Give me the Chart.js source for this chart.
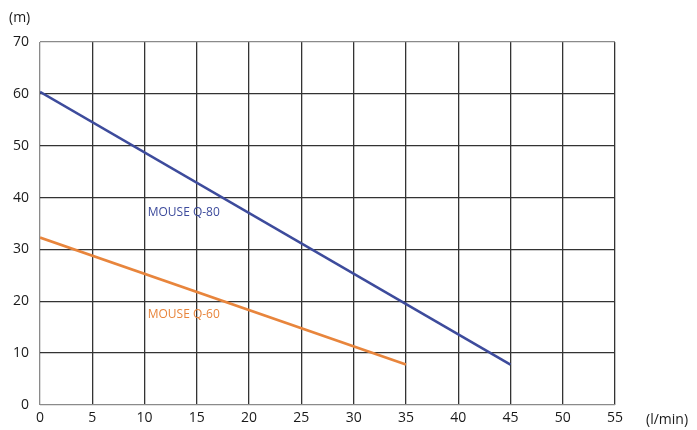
<!DOCTYPE html>
<html lang="en">
<head>
    <meta charset="UTF-8">
    <title>Pump curves</title>
    <script src="https://cdn.jsdelivr.net/npm/chart.js"></script>
    <style>
        body { margin: 0; background: #fff; }
        canvas { display: block; }
    </style>
</head>
<body>
    <canvas id="pumpChart" width="697" height="430"></canvas>

    <script>
        // flow (l/min) vs head (m)
        const q80Flow = [0, 45];
        const q80Head = [60.4, 7.8];
        const q60Flow = [0, 35];
        const q60Head = [32.3, 7.8];

        const xTicks = [0, 5, 10, 15, 20, 25, 30, 35, 40, 45, 50, 55];
        const yTicks = [0, 10, 20, 30, 40, 50, 60, 70];

        const blue = '#3d4b9c';
        const orange = '#e8853c';

        // series labels placed in data units
        const seriesLabels = [
            { text: 'MOUSE Q-80', x: 10.3, y: 37.2, color: blue },
            { text: 'MOUSE Q-60', x: 10.3, y: 17.5, color: orange },
        ];

        const toPoints = (xs, ys) => xs.map((x, i) => ({ x: x, y: ys[i] }));

        const gridColor = (ctx) => (ctx.tick.value === 0 ? '#8a8a8a' : '#333');

        const textPlugin = {
            id: 'textPlugin',
            afterDatasetsDraw(chart) {
                const { ctx, scales, chartArea } = chart;
                ctx.save();
                ctx.font = '12px "Open Sans"';
                ctx.textBaseline = 'middle';
                ctx.textAlign = 'left';
                seriesLabels.forEach(l => {
                    ctx.fillStyle = l.color;
                    ctx.fillText(l.text, scales.x.getPixelForValue(l.x), scales.y.getPixelForValue(l.y));
                });
                ctx.fillStyle = '#1a1a1a';
                ctx.font = '14px "Open Sans"';
                ctx.fillText('(m)', 9, chartArea.top - 24);
                ctx.fillText('(l/min)', chartArea.right + 31, chartArea.bottom + 15);
                ctx.restore();
            }
        };

        const ctx = document.getElementById('pumpChart').getContext('2d');
        new Chart(ctx, {
            type: 'scatter',
            data: {
                datasets: [
                    {
                        label: 'MOUSE Q-80',
                        data: toPoints(q80Flow, q80Head),
                        showLine: true,
                        borderColor: blue,
                        borderWidth: 2.6,
                        pointRadius: 0,
                    },
                    {
                        label: 'MOUSE Q-60',
                        data: toPoints(q60Flow, q60Head),
                        showLine: true,
                        borderColor: orange,
                        borderWidth: 2.6,
                        pointRadius: 0,
                    },
                ],
            },
            options: {
                responsive: false,
                animation: false,
                layout: { padding: { top: 42, right: 82, left: 0, bottom: 0 } },
                plugins: {
                    legend: { display: false },
                    tooltip: { enabled: false },
                },
                scales: {
                    x: {
                        type: 'linear',
                        min: 0,
                        max: 55,
                        afterBuildTicks: (s) => { s.ticks = xTicks.map(v => ({ value: v })); },
                        afterFit: (s) => { s.height = 25; },
                        grid: { color: gridColor, lineWidth: 1.3, drawTicks: false },
                        border: { display: false },
                        ticks: { color: '#1a1a1a', font: { size: 14, family: 'Open Sans' }, padding: 5 },
                    },
                    y: {
                        min: 0,
                        max: 70,
                        afterBuildTicks: (s) => { s.ticks = yTicks.map(v => ({ value: v })); },
                        afterFit: (s) => { s.width = 40; },
                        grid: {
                            color: (c) => (c.tick.value === 0 || c.tick.value === 70 ? '#8a8a8a' : '#333'),
                            lineWidth: 1.3,
                            drawTicks: false,
                        },
                        border: { display: false },
                        ticks: { color: '#1a1a1a', font: { size: 14, family: 'Open Sans' }, padding: 11 },
                    },
                },
            },
            plugins: [textPlugin],
        });
    </script>
</body>
</html>
